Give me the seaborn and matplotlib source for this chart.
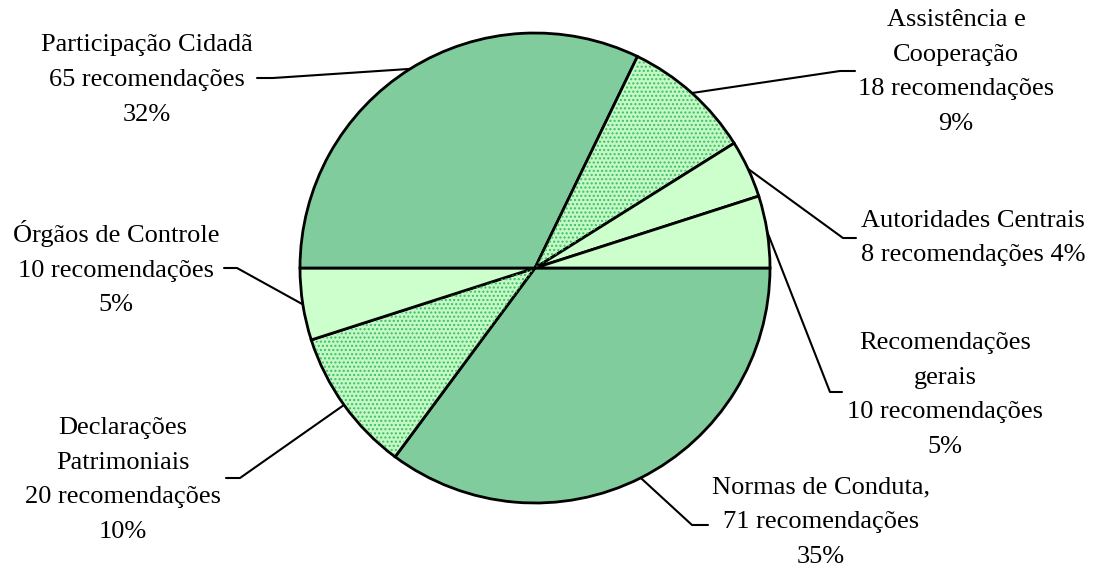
import matplotlib
matplotlib.use('Agg')
import numpy as np
import matplotlib.pyplot as plt
import seaborn as sns
from matplotlib.patches import Wedge

sns.set_style('white')
plt.rcParams['font.family'] = ['Liberation Serif', 'DejaVu Serif']
plt.rcParams['text.color'] = 'black'
plt.rcParams['hatch.linewidth'] = 1.0

# dados
categorias = ['Normas de Conduta,', 'Declarações\nPatrimoniais', 'Órgãos de Controle',
              'Participação Cidadã', 'Assistência e\nCooperação', 'Autoridades Centrais',
              'Recomendações\ngerais']
recomendacoes = [71, 20, 10, 65, 18, 8, 10]
sep_pct = ['\n', '\n', '\n', '\n', '\n', ' ', '\n']

# estilo
cores = ['#80cc9c', '#c4f8c6', '#ccffcc', '#80cc9c', '#c4f8c6', '#ccffcc', '#ccffcc']
pontilhado = [False, True, False, False, True, False, False]

# posicao dos rotulos (pixels) e cotovelos das linhas de chamada
pos_texto = [(821, 522), (123, 480), (116, 268), (147, 80), (956, 72), (973, 238), (945, 395)]
cotovelo = [((692, 525), (708, 525)), ((240, 478), (226, 478)), ((237, 268), (224, 268)),
            ((273, 78), (257, 78)), ((840, 71), (855, 71)), ((843, 238), (856, 238)),
            ((830, 392), (842, 392))]

W, H = 1094, 569
CX, CY, R = 535, 268, 235


def px(x, y):
    return ((x - CX) / R, (CY - y) / R)


fig = plt.figure(figsize=(10.94, 5.69), dpi=100)
ax = fig.add_axes([0, 0, 1, 1])
wedges, _ = ax.pie(recomendacoes, colors=cores, startangle=0, counterclock=False, radius=1,
                   wedgeprops=dict(edgecolor='black', linewidth=2))
ax.set_xlim(px(0, 0)[0], px(W, 0)[0])
ax.set_ylim(px(0, H)[1], px(0, 0)[1])
ax.set_aspect('auto')
ax.axis('off')

# textura pontilhada
for w, pont in zip(wedges, pontilhado):
    if pont:
        ax.add_patch(Wedge(w.center, w.r - 0.006, w.theta1 + 0.6, w.theta2 - 0.6, facecolor='none',
                           edgecolor='#3cc060', linewidth=0, hatch='....', zorder=w.zorder + 0.1))

total = sum(recomendacoes)
for w, cat, v, sep, (tx, ty), (c1, c2) in zip(wedges, categorias, recomendacoes, sep_pct,
                                              pos_texto, cotovelo):
    pct = round(100 * v / total)
    rotulo = f'{cat}\n{v} recomendações{sep}{pct}%'
    ax.text(*px(tx, ty), rotulo, ha='center', va='center', fontsize=19, color='black',
            linespacing=1.74, multialignment='center')
    ang = np.deg2rad((w.theta1 + w.theta2) / 2)
    a = (np.cos(ang), np.sin(ang))
    p1, p2 = px(*c1), px(*c2)
    ax.plot([a[0], p1[0], p2[0]], [a[1], p1[1], p2[1]], color='black', lw=1.5, zorder=5)

plt.savefig('out.png', dpi=100)
